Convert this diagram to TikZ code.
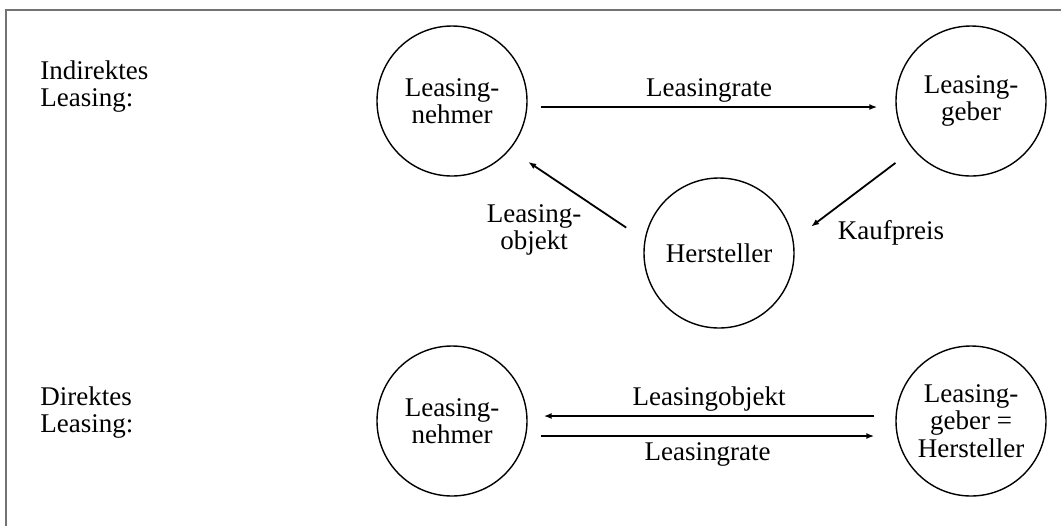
\documentclass[tikz,border=0pt]{standalone}
\usepackage{fontspec}
\setmainfont{Liberation Serif}
\usetikzlibrary{arrows.meta}
\usetikzlibrary{calc}

\begin{document}
\begin{tikzpicture}[x=0.5pt,y=-0.5pt,>/.tip={Latex[length=4pt,width=3pt]},
	font=\fontsize{13.5}{13.8}\selectfont,
	party/.style={shape=circle,draw,line width=0.7pt,minimum size=75pt,inner sep=0pt,align=center},
	flow/.style={->,line width=0.9pt},
	caption/.style={anchor=north west,align=left,inner sep=0pt}]
	\useasboundingbox (0,0) rectangle (1061,526);
	\draw[line width=1pt,black!55] (1061,10) -- (6,10) -- (6,526);
	\node (indir) [caption] at (40,60) {Indirektes\\Leasing:};
	\node (dir) [caption] at (40,386) {Direktes\\Leasing:};
	\draw (452,101) node (nehmer1) [party] {Leasing-\\nehmer};
	\draw (971,101) node (geber1) [party] {Leasing-\\geber};
	\draw (719,253) node (hersteller) [party] {Hersteller};
	\draw (452,421) node (nehmer2) [party] {Leasing-\\nehmer};
	\draw (971,421) node (gebhers) [party] {Leasing-\\geber =\\Hersteller};
	\draw[flow] (nehmer1.east) ++(6.5pt,-3pt) -- node [above,inner sep=2pt] {Leasingrate} ($(geber1.west)+(-9pt,-3pt)$);
	\draw[flow,shorten <=11pt,shorten >=11pt] (hersteller.170) -- (nehmer1.-40);
	\draw[flow,shorten <=11pt,shorten >=11pt] (geber1.-140) -- (hersteller.10);
	\node (objlbl) [align=center] at (534,230) {Leasing-\\objekt};
	\node (kauf) at (891,233) {Kaufpreis};
	\draw[flow] (gebhers.west) ++(-10.5pt,2.5pt) -- node [above,inner sep=2pt] {Leasingobjekt} ($(nehmer2.east)+(8pt,2.5pt)$);
	\draw[flow] (nehmer2.east) ++(6.5pt,-7.5pt) -- node [below,inner sep=3pt] {Leasingrate} ($(gebhers.west)+(-10.5pt,-7.5pt)$);
\end{tikzpicture}
\end{document}
